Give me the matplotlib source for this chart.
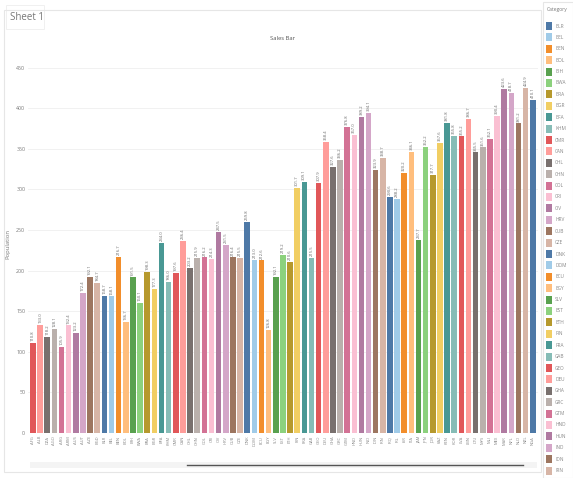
import matplotlib
matplotlib.use("Agg")
import matplotlib.pyplot as plt
from matplotlib.patches import Rectangle
from matplotlib.lines import Line2D

plt.rcParams['font.family'] = ['Open Sans', 'DejaVu Sans']

# ---- data -----------------------------------------------------------------
categories = [
    "AFG", "ALB", "DZA", "AGO", "ARG", "ARM", "AUS", "AUT", "AZE", "BGD",
    "BLR", "BEL", "BEN", "BOL", "BIH", "BWA", "BRA", "BGR", "BFA", "KHM",
    "CMR", "CAN", "CHL", "CHN", "COL", "CRI", "CIV", "HRV", "CUB", "CZE",
    "DNK", "DOM", "ECU", "EGY", "SLV", "EST", "ETH", "FIN", "FRA", "GAB",
    "GEO", "DEU", "GHA", "GRC", "GTM", "HND", "HUN", "IND", "IDN", "IRN",
    "IRQ", "IRL", "ISR", "ITA", "JAM", "JPN", "JOR", "KAZ", "KEN", "KOR",
    "LVA", "LBN", "LTU", "MYS", "MLI", "MEX", "MAR", "NPL", "NLD", "NZL",
    "NGA",
]
values = [
    110.8, 133.0, 118.2, 128.1, 105.9, 132.4, 123.2, 172.4, 192.1, 184.7,
    168.7, 168.1, 216.7, 136.7, 191.5, 160.1, 198.3, 177.3, 234.0, 186.0,
    197.6, 236.4, 203.2, 215.9, 216.2, 214.3, 247.5, 231.5, 216.4, 215.5,
    259.8, 213.0, 212.6, 126.8, 192.1, 219.2, 210.6, 301.7, 309.1, 215.5,
    307.9, 358.4, 327.6, 336.2, 376.8, 367.0, 389.2, 394.1, 323.9, 338.7,
    290.6, 288.2, 320.2, 346.1, 237.7, 352.2, 317.7, 357.6, 381.8, 365.8,
    365.2, 386.7, 345.5, 351.6, 362.1, 390.4, 423.6, 418.7, 381.2, 424.9,
    410.1,
]
y_ticks = [0, 50, 100, 150, 200, 250, 300, 350, 400, 450]
legend_start = 10      # first category shown in the legend list
legend_rows = 40

tableau20 = [
    "#4E79A7", "#A0CBE8", "#F28E2B", "#FFBE7D", "#59A14F", "#8CD17D",
    "#B6992D", "#F1CE63", "#499894", "#86BCB6", "#E15759", "#FF9D9A",
    "#79706E", "#BAB0AC", "#D37295", "#FABFD2", "#B07AA1", "#D4A6C8",
    "#9D7660", "#D7B5A6",
]
colors = [tableau20[(i + legend_start) % 20] for i in range(len(categories))]

W, H = 573, 478
fig = plt.figure(figsize=(W / 100, H / 100), dpi=100)


def fx(px):
    return px / W


def fy(py):
    return 1 - py / H


# plot area
ax_l, ax_r, ax_t, ax_b = 28, 538, 55, 433
ax = fig.add_axes([fx(ax_l), fy(ax_b), fx(ax_r - ax_l), (ax_b - ax_t) / H])

x = list(range(len(categories)))
ax.bar(x, values, width=0.78, color=colors, zorder=3)
ax.set_xlim(-0.70, 70.73)
ax.set_ylim(0, 465.5)

for xi, v in zip(x, values):
    ax.text(xi, v + 2, f"{v:.1f}", rotation=90, ha="center", va="bottom",
            fontsize=3.0, color="#666666", zorder=4)

ax.set_yticks(y_ticks)
ax.set_yticklabels([str(t) for t in y_ticks], fontsize=3.8, color="#777777")
ax.set_xticks(x)
ax.set_xticklabels(categories, rotation=90, fontsize=3.0, color="#888888")
ax.tick_params(axis="both", length=0, pad=2)
ax.grid(axis="y", color="#EFEFEF", linewidth=0.6, zorder=0)
for s in ax.spines.values():
    s.set_visible(False)
ax.axhline(0, color="#DDDDDD", linewidth=0.6, zorder=2)
ax.set_ylabel("Population", fontsize=4.2, color="#777777", labelpad=4)

# headings
fig.text(fx(283), fy(38), "Sales Bar", fontsize=4.2, color="#555555",
         ha="center", va="center")
fig.text(fx(10), fy(18), "Sheet 1", fontsize=7, color="#777777",
         ha="left", va="center")
fig.add_artist(Rectangle((fx(6), fy(29)), fx(38), 24 / H, fill=False,
                         edgecolor="#EEEEEE", linewidth=0.6,
                         transform=fig.transFigure))

# worksheet frame
fig.add_artist(Rectangle((fx(4), fy(472)), fx(537), 462 / H, fill=False,
                         edgecolor="#E6E6E6", linewidth=0.8,
                         transform=fig.transFigure))

# horizontal scrollbar
fig.add_artist(Rectangle((fx(30), fy(468)), fx(507), 6 / H, facecolor="#F4F4F4",
                         edgecolor="none", transform=fig.transFigure))
fig.add_artist(Line2D([fx(187), fx(523)], [fy(465), fy(465)], color="#555555",
                      linewidth=1.0, transform=fig.transFigure))

# legend panel
fig.add_artist(Rectangle((fx(543), fy(478)), fx(30), 476 / H, fill=False,
                         edgecolor="#E6E6E6", linewidth=0.8,
                         transform=fig.transFigure))
fig.text(fx(547), fy(10), "Category", fontsize=3.6, color="#777777",
         ha="left", va="center")
for k in range(legend_rows):
    idx = (legend_start + k) % len(categories)
    yc = 26 + 11.4 * k
    fig.add_artist(Rectangle((fx(546), fy(yc + 4)), fx(6), 8 / H,
                             facecolor=colors[idx], edgecolor="none",
                             transform=fig.transFigure))
    fig.text(fx(555), fy(yc), categories[idx], fontsize=3.4, color="#888888",
             ha="left", va="center")

fig.savefig("out.png", dpi=100)
